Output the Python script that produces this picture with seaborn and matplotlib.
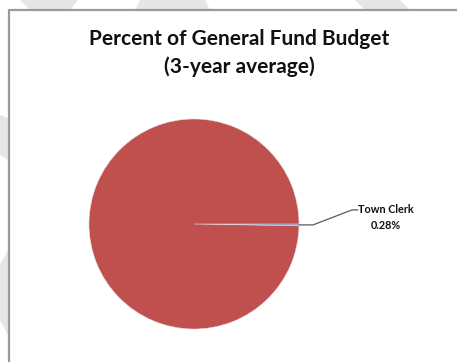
import numpy as np
import matplotlib
matplotlib.use("Agg")
import matplotlib.pyplot as plt
from matplotlib.patches import Polygon
import seaborn as sns

# Budget shares (3-year average), percent
departments = ["Other General Fund", "Town Clerk"]
shares = [99.72, 0.28]
share_labels = ["", "0.28%"]

sns.set_theme(style="white")
plt.rcParams["font.family"] = ["Lato", "DejaVu Sans"]

W, H = 457, 362
fig = plt.figure(figsize=(W / 100, H / 100), dpi=100)
fig.patch.set_facecolor("white")

# Canvas axes in pixel units (y up)
ax = fig.add_axes([0, 0, 1, 1])

colors = ["#C0504D", "#4F81BD"]
cx, cy, r = 194, H - 224, 105
# Town Clerk slice begins at 3 o'clock going clockwise
order = [1, 0]
wedges, _ = ax.pie([shares[i] for i in order], colors=[colors[i] for i in order],
                   startangle=0, counterclock=False, center=(cx, cy), radius=r,
                   wedgeprops=dict(edgecolor="#e8d8e0", linewidth=0.4),
                   frame=False)
for w in wedges:
    w.set_zorder(2)

ax.set_xlim(0, W)
ax.set_ylim(0, H)
ax.set_aspect("equal")
ax.axis("off")

# Faint background shapes outside the chart frame
bg = "#e6e6e6"
shapes = [
    [(20, H), (78, H), (70, H - 10), (30, H - 10)],
    [(140, H), (205, H), (210, H - 10), (135, H - 10)],
    [(355, H), (400, H), (410, H - 10), (365, H - 10)],
    [(0, H - 115), (8, H - 118), (8, H - 160), (0, H - 155)],
    [(0, H - 265), (8, H - 250), (8, H - 335), (0, H - 320)],
]
for pts in shapes:
    ax.add_patch(Polygon(pts, closed=True, facecolor=bg, edgecolor="none", zorder=0))

# Chart frame (top and left edges visible)
ax.plot([8.5, 8.5, W], [0, H - 10, H - 10], color="#9a9a9a", lw=1.6, zorder=1,
        solid_capstyle="butt")

# Leader line and label for the Town Clerk slice
tc = wedges[0]
mid = np.deg2rad((tc.theta1 + tc.theta2) / 2)
ex, ey = cx + r * np.cos(mid), cy + r * np.sin(mid)
ax.plot([ex, ex + 14, ex + 53, ex + 59], [ey, ey, ey + 15, ey + 15],
        color="#5a5a5a", lw=0.9, zorder=3)
ax.text(386, ey + 15, departments[1], ha="center", va="center",
        fontsize=7.8, fontweight="bold", color="#111111", zorder=3)
ax.text(386, ey - 1, share_labels[1], ha="center", va="center",
        fontsize=7.8, fontweight="bold", color="#111111", zorder=3)

# Title
ax.text(239, H - 39, "Percent of General Fund Budget", ha="center", va="center",
        fontsize=15, fontweight="bold", color="#111111", zorder=3)
ax.text(239, H - 67, "(3-year average)", ha="center", va="center",
        fontsize=15, fontweight="bold", color="#111111", zorder=3)

fig.savefig("out.png", dpi=100, facecolor="white")
